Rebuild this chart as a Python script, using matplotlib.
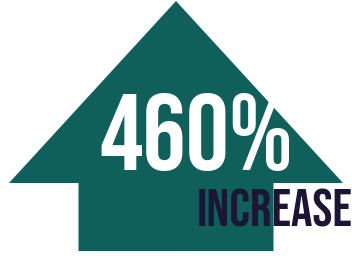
import matplotlib
matplotlib.use("Agg")
import matplotlib.pyplot as plt
from matplotlib import font_manager
from matplotlib.font_manager import FontProperties
from matplotlib.textpath import TextPath
from matplotlib.patches import FancyArrow

# ---- content ----
value_label = "460%"
caption_label = "INCREASE"

# ---- style ----
teal = "#0f5f5b"
navy = "#1c1535"
W, H, DPI = 352, 256, 100

available = {f.name for f in font_manager.fontManager.ttflist}
candidates = ["Bebas Neue", "Oswald", "Roboto Condensed", "Open Sans Condensed",
              "Liberation Sans Narrow", "DejaVu Sans Condensed", "Roboto", "DejaVu Sans"]
family = next(c for c in candidates if c in available)

fig = plt.figure(figsize=(W / DPI, H / DPI), dpi=DPI)
ax = fig.add_axes([0, 0, 1, 1])
ax.set_xlim(0, W)
ax.set_ylim(H, 0)
ax.axis("off")

# arrow shape (pixel-like data coordinates, y downward)
ax.add_patch(FancyArrow(176, 251, 0, -250, width=195, head_width=334,
                        head_length=182, length_includes_head=True,
                        color=teal, linewidth=0))


def fit_text(s, box, color, align="center"):
    """box = (left, top, right, bottom) in pixel coords, y downward."""
    fp = FontProperties(family=family, weight="bold")
    tp = TextPath((0, 0), s, size=100, prop=fp)
    ext = tp.get_extents()
    x0, y0, x1, y1 = ext.x0 / 100, ext.y0 / 100, ext.x1 / 100, ext.y1 / 100
    left, top, right, bottom = box
    bw, bh = right - left, bottom - top
    k = min(bw / (x1 - x0), bh / (y1 - y0))
    ink_w, ink_h = (x1 - x0) * k, (y1 - y0) * k
    if align == "right":
        xl = right - ink_w
    else:
        xl = left + (bw - ink_w) / 2
    yb = bottom - (bh - ink_h) / 2  # ink bottom (pixels, y down)
    base_x = xl - x0 * k
    base_y = yb + y0 * k
    ax.text(base_x, base_y, s, fontsize=k * 72 / DPI, fontproperties=fp,
            color=color, ha="left", va="baseline")


fit_text(value_label, (97, 93, 294, 171), "white")
fit_text(caption_label, (199, 188, 351, 227), navy, align="right")

fig.savefig("out.png", dpi=DPI, facecolor="white")
